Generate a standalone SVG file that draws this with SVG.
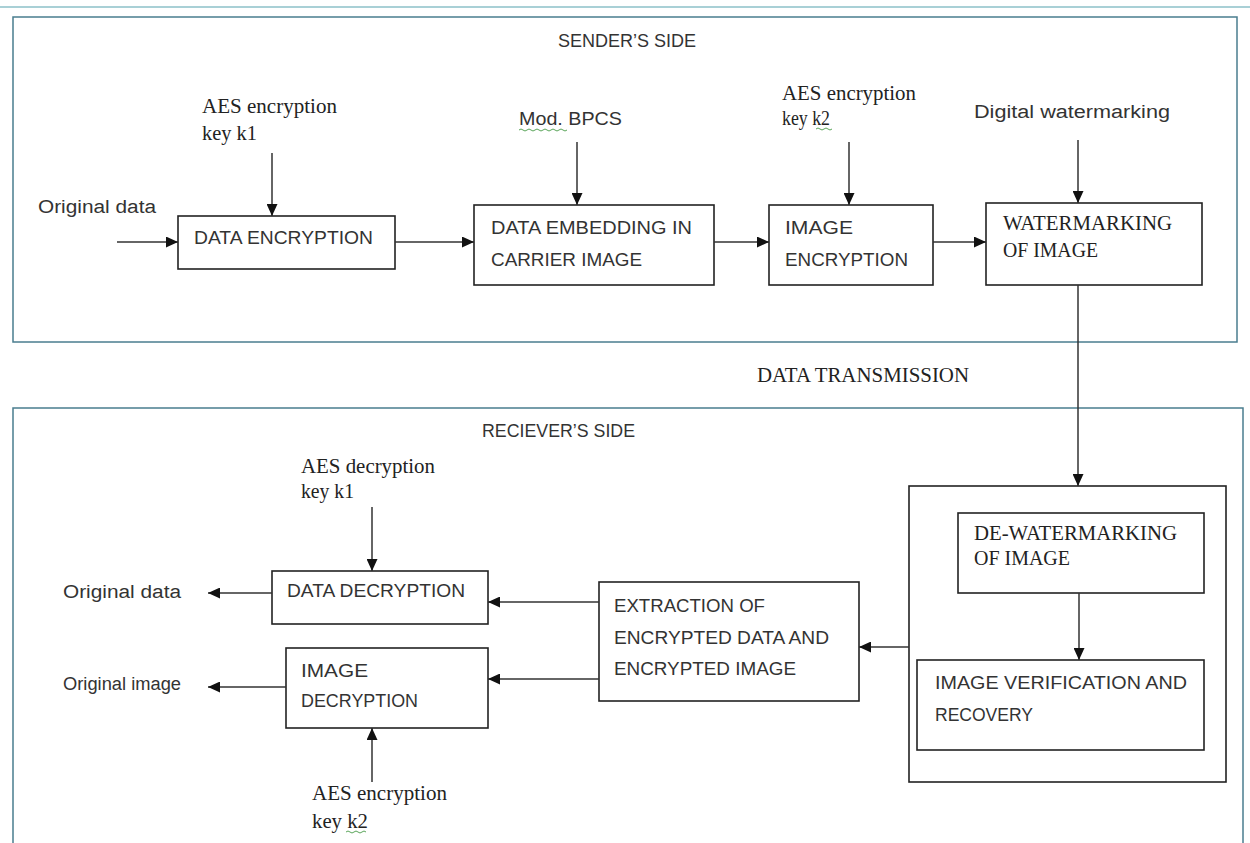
<svg xmlns="http://www.w3.org/2000/svg" width="1250" height="843" viewBox="0 0 1250 843">
<style>
.frame{fill:none;stroke:#4a7d8f;stroke-width:1.5}
.box{fill:#fff;stroke:#222;stroke-width:1.6}
.ln{fill:none;stroke:#333;stroke-width:1.5}
.sans{font-family:"Liberation Sans",Arial,sans-serif;font-size:18px;fill:#333}
.serif{font-family:"Liberation Serif","Times New Roman",serif;font-size:20px;fill:#222}
.wavy{fill:none;stroke:#5aa55a;stroke-width:1}
</style>
<defs>
<marker id="ah" markerUnits="userSpaceOnUse" markerWidth="13" markerHeight="11" refX="12" refY="5.5" orient="auto">
<path d="M0,0 L12,5.5 L0,11 z" fill="#111"/>
</marker>
</defs>
<rect width="1250" height="843" fill="#fff"/>
<line x1="0" y1="7" x2="1250" y2="7" stroke="#8cc0c8" stroke-width="1.5"/>

<g id="sender-frame">
<rect class="frame" x="13" y="17" width="1224" height="325"/>
<text class="sans" x="558" y="47" textLength="138" lengthAdjust="spacingAndGlyphs">SENDER’S SIDE</text>
</g>
<g id="receiver-frame">
<rect class="frame" x="13" y="408" width="1230" height="460"/>
<text class="sans" x="482" y="437" textLength="153" lengthAdjust="spacingAndGlyphs">RECIEVER’S SIDE</text>
</g>

<g id="label-original-data-in">
<text class="sans" x="38" y="213" font-size="19" textLength="118" lengthAdjust="spacingAndGlyphs">Original data</text>
</g>
<g id="label-aes-k1">
<text class="serif" x="202" y="113" textLength="135" lengthAdjust="spacingAndGlyphs">AES encryption</text>
<text class="serif" x="202" y="140" textLength="55" lengthAdjust="spacingAndGlyphs">key k1</text>
</g>
<g id="label-bpcs">
<text class="sans" x="519" y="125" font-size="19" textLength="103" lengthAdjust="spacingAndGlyphs">Mod. BPCS</text>
<path class="wavy" d="M519,130 q2,-2 4,0 t4,0 t4,0 t4,0 t4,0 t4,0 t4,0 t4,0 t4,0 t4,0 t4,0 t4,0"/>
</g>
<g id="label-aes-k2">
<text class="serif" x="782" y="100" textLength="134" lengthAdjust="spacingAndGlyphs">AES encryption</text>
<text class="serif" x="782" y="125" textLength="48" lengthAdjust="spacingAndGlyphs">key k2</text>
<path class="wavy" d="M816,129 q2,-2 4,0 t4,0 t4,0 t4,0"/>
</g>
<g id="label-digital-watermarking">
<text class="sans" x="974" y="118" font-size="19" textLength="196" lengthAdjust="spacingAndGlyphs">Digital watermarking</text>
</g>

<g id="data-encryption">
<rect class="box" x="178" y="216" width="217" height="53"/>
<text class="sans" x="194" y="244" textLength="179" lengthAdjust="spacingAndGlyphs">DATA ENCRYPTION</text>
</g>
<g id="data-embedding">
<rect class="box" x="474" y="205" width="240" height="80"/>
<text class="sans" x="491" y="234" textLength="201" lengthAdjust="spacingAndGlyphs">DATA EMBEDDING IN</text>
<text class="sans" x="491" y="266" textLength="151" lengthAdjust="spacingAndGlyphs">CARRIER IMAGE</text>
</g>
<g id="image-encryption">
<rect class="box" x="769" y="205" width="164" height="80"/>
<text class="sans" x="785" y="234" textLength="68" lengthAdjust="spacingAndGlyphs">IMAGE</text>
<text class="sans" x="785" y="266" textLength="123" lengthAdjust="spacingAndGlyphs">ENCRYPTION</text>
</g>
<g id="watermarking">
<rect class="box" x="986" y="203" width="216" height="82"/>
<text class="serif" x="1003" y="230" textLength="169" lengthAdjust="spacingAndGlyphs">WATERMARKING</text>
<text class="serif" x="1003" y="257" textLength="95" lengthAdjust="spacingAndGlyphs">OF IMAGE</text>
</g>

<g id="label-data-transmission">
<text class="serif" x="757" y="382" textLength="212" lengthAdjust="spacingAndGlyphs">DATA TRANSMISSION</text>
</g>

<g id="verification-group">
<rect class="box" x="909" y="486" width="317" height="296"/>
</g>
<g id="de-watermarking">
<rect class="box" x="958" y="513" width="246" height="80"/>
<text class="serif" x="974" y="540" textLength="203" lengthAdjust="spacingAndGlyphs">DE-WATERMARKING</text>
<text class="serif" x="974" y="565" textLength="96" lengthAdjust="spacingAndGlyphs">OF IMAGE</text>
</g>
<g id="image-verification">
<rect class="box" x="917" y="660" width="287" height="90"/>
<text class="sans" x="935" y="689" textLength="252" lengthAdjust="spacingAndGlyphs">IMAGE VERIFICATION AND</text>
<text class="sans" x="935" y="721" textLength="98" lengthAdjust="spacingAndGlyphs">RECOVERY</text>
</g>
<g id="extraction">
<rect class="box" x="599" y="582" width="260" height="119"/>
<text class="sans" x="614" y="612" textLength="151" lengthAdjust="spacingAndGlyphs">EXTRACTION OF</text>
<text class="sans" x="614" y="644" textLength="215" lengthAdjust="spacingAndGlyphs">ENCRYPTED DATA AND</text>
<text class="sans" x="614" y="675" textLength="182" lengthAdjust="spacingAndGlyphs">ENCRYPTED IMAGE</text>
</g>
<g id="data-decryption">
<rect class="box" x="272" y="571" width="216" height="53"/>
<text class="sans" x="287" y="597" textLength="178" lengthAdjust="spacingAndGlyphs">DATA DECRYPTION</text>
</g>
<g id="image-decryption">
<rect class="box" x="286" y="648" width="202" height="80"/>
<text class="sans" x="301" y="677" textLength="67" lengthAdjust="spacingAndGlyphs">IMAGE</text>
<text class="sans" x="301" y="707" textLength="117" lengthAdjust="spacingAndGlyphs">DECRYPTION</text>
</g>

<g id="label-aes-dec-k1">
<text class="serif" x="301" y="473" textLength="134" lengthAdjust="spacingAndGlyphs">AES decryption</text>
<text class="serif" x="301" y="498" textLength="53" lengthAdjust="spacingAndGlyphs">key k1</text>
</g>
<g id="label-original-data-out">
<text class="sans" x="63" y="598" font-size="19" textLength="118" lengthAdjust="spacingAndGlyphs">Original data</text>
</g>
<g id="label-original-image">
<text class="sans" x="63" y="690" font-size="16" textLength="118" lengthAdjust="spacingAndGlyphs">Original image</text>
</g>
<g id="label-aes-k2-bottom">
<text class="serif" x="312" y="800" textLength="135" lengthAdjust="spacingAndGlyphs">AES encryption</text>
<text class="serif" x="312" y="828" textLength="56" lengthAdjust="spacingAndGlyphs">key k2</text>
<path class="wavy" d="M346,832 q2,-2 4,0 t4,0 t4,0 t4,0 t4,0"/>
</g>

<g id="connectors">
<line class="ln" x1="117" y1="242" x2="178" y2="242" marker-end="url(#ah)"/>
<line class="ln" x1="272" y1="153" x2="272" y2="216" marker-end="url(#ah)"/>
<line class="ln" x1="395" y1="242" x2="474" y2="242" marker-end="url(#ah)"/>
<line class="ln" x1="577" y1="142" x2="577" y2="205" marker-end="url(#ah)"/>
<line class="ln" x1="714" y1="242" x2="769" y2="242" marker-end="url(#ah)"/>
<line class="ln" x1="849" y1="142" x2="849" y2="205" marker-end="url(#ah)"/>
<line class="ln" x1="933" y1="242" x2="986" y2="242" marker-end="url(#ah)"/>
<line class="ln" x1="1078" y1="140" x2="1078" y2="203" marker-end="url(#ah)"/>
<line class="ln" x1="1078" y1="285" x2="1078" y2="486" stroke="#555" stroke-width="2" marker-end="url(#ah)"/>
<line class="ln" x1="1079" y1="593" x2="1079" y2="660" marker-end="url(#ah)"/>
<line class="ln" x1="909" y1="647" x2="859" y2="647" marker-end="url(#ah)"/>
<line class="ln" x1="599" y1="602" x2="488" y2="602" marker-end="url(#ah)"/>
<line class="ln" x1="599" y1="679" x2="488" y2="679" marker-end="url(#ah)"/>
<line class="ln" x1="372" y1="507" x2="372" y2="571" marker-end="url(#ah)"/>
<line class="ln" x1="272" y1="593" x2="208" y2="593" stroke-width="2.5" marker-end="url(#ah)"/>
<line class="ln" x1="286" y1="687" x2="208" y2="687" marker-end="url(#ah)"/>
<line class="ln" x1="372" y1="782" x2="372" y2="728" marker-end="url(#ah)"/>
</g>
</svg>
